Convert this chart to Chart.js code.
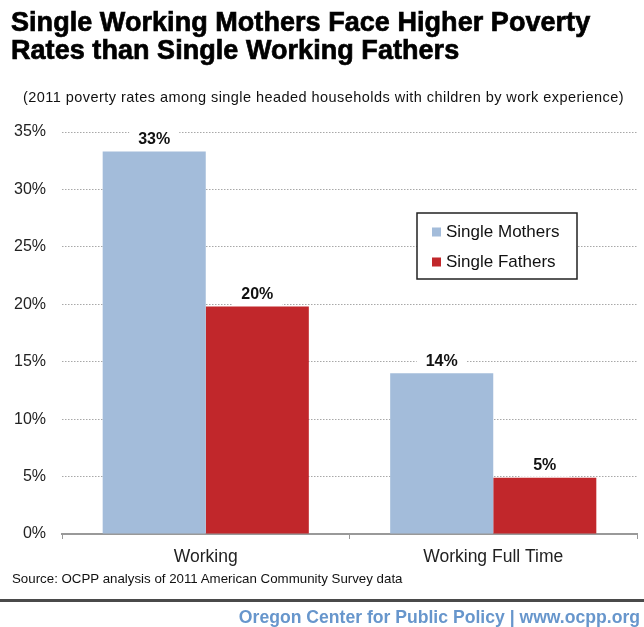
<!DOCTYPE html>
<html>
<head>
<meta charset="utf-8">
<script src="https://cdn.jsdelivr.net/npm/chart.js@4.4.0/dist/chart.umd.min.js"></script>
<style>
  html, body { margin: 0; padding: 0; background: #fff; }
  #wrap { position: relative; width: 644px; height: 627px; overflow: hidden; font-family: "Liberation Sans", Arial, sans-serif; }
  #c { position: absolute; left: 0; top: 0; }
  .t { position: absolute; white-space: nowrap; color: #000; }
  #title { left: 11px; top: 8px; font-size: 27px; font-weight: bold; line-height: 28px; letter-spacing: 0.05px; -webkit-text-stroke: 0.7px #000; }
  #subtitle { left: 23px; top: 89px; font-size: 14.5px; line-height: 16px; letter-spacing: 0.45px; color: #111; }
  #source { left: 12px; top: 571px; font-size: 13.3px; line-height: 16px; color: #111; }
  #rule { position: absolute; left: 0; top: 599px; width: 644px; height: 3px; background: #4a4a4a; }
  #footer { right: 4px; top: 606px; font-size: 17.6px; font-weight: bold; line-height: 22px; color: #6796cc; }
</style>
</head>
<body>
<div id="wrap">
  <canvas id="c" width="644" height="627"></canvas>
  <div class="t" id="title">Single Working Mothers Face Higher Poverty<br>Rates than Single Working Fathers</div>
  <div class="t" id="subtitle">(2011 poverty rates among single headed households with children by work experience)</div>
  <div class="t" id="source">Source: OCPP analysis of 2011 American Community Survey data</div>
  <div id="rule"></div>
  <div class="t" id="footer">Oregon Center for Public Policy | www.ocpp.org</div>
</div>
<script>
const categories = ["Working", "Working Full Time"];
const seriesNames = ["Single Mothers", "Single Fathers"];
const singleMothers = [33.3, 14.0];
const singleFathers = [19.8, 4.9];
const yTicks = [0, 5, 10, 15, 20, 25, 30, 35];
const colors = ["#a3bcda", "#c1272b"];

const dataLabels = {
  id: "dataLabels",
  afterDatasetsDraw(chart) {
    const ctx = chart.ctx;
    ctx.save();
    chart.data.datasets.forEach((ds, di) => {
      const meta = chart.getDatasetMeta(di);
      meta.data.forEach((bar, i) => {
        const v = ds.data[i];
        const txt = Math.round(v) + "%";
        const cy = bar.y - 12;
        ctx.fillStyle = "#fff";
        ctx.fillRect(bar.x - 25, cy - 10, 50, bar.y - (cy - 10) - 1);
        ctx.fillStyle = "#111";
        ctx.font = "bold 16px 'Liberation Sans', Arial, sans-serif";
        ctx.textAlign = "center";
        ctx.textBaseline = "middle";
        ctx.fillText(txt, bar.x, cy);
      });
    });
    ctx.restore();
  }
};

const boxLegend = {
  id: "boxLegend",
  afterDraw(chart) {
    const ctx = chart.ctx;
    ctx.save();
    const x0 = 417, y0 = 213, w = 160, h = 66;
    ctx.fillStyle = "#fff";
    ctx.fillRect(x0, y0, w, h);
    ctx.strokeStyle = "#222";
    ctx.lineWidth = 1.5;
    ctx.strokeRect(x0, y0, w, h);
    ctx.font = "17px 'Liberation Sans', Arial, sans-serif";
    ctx.textBaseline = "middle";
    ctx.textAlign = "left";
    chart.data.datasets.forEach((ds, i) => {
      const cy = 232 + i * 30;
      ctx.fillStyle = ds.backgroundColor;
      ctx.fillRect(432, cy - 4.5, 9, 9);
      ctx.fillStyle = "#111";
      ctx.fillText(ds.label, 446, cy);
    });
    ctx.restore();
  }
};

new Chart(document.getElementById("c"), {
  type: "bar",
  data: {
    labels: categories,
    datasets: [
      { label: seriesNames[0], data: singleMothers, backgroundColor: colors[0] },
      { label: seriesNames[1], data: singleFathers, backgroundColor: colors[1] }
    ]
  },
  options: {
    responsive: false,
    animation: false,
    devicePixelRatio: 1,
    layout: { padding: { top: 132, left: 0, right: 7, bottom: 51 } },
    plugins: { legend: { display: false }, tooltip: { enabled: false }, title: { display: false } },
    datasets: { bar: { categoryPercentage: 0.717, barPercentage: 1.0 } },
    scales: {
      y: {
        min: 0, max: 35,
        afterFit(scale) { scale.width = 62; },
        afterBuildTicks(scale) { scale.ticks = yTicks.map(v => ({ value: v })); },
        ticks: {
          callback: v => v + "%",
          font: { size: 16, family: "'Liberation Sans', Arial, sans-serif" },
          color: "#222",
          padding: 16
        },
        grid: { color: "#a8a8a8", drawTicks: false, lineWidth: 1 },
        border: { display: false, dash: [1.5, 1.5] }
      },
      x: {
        grid: { drawOnChartArea: false, drawTicks: true, tickLength: 5, color: "#999", offset: true },
        border: { display: true, color: "#999", width: 2 },
        ticks: {
          font: { size: 17.5, family: "'Liberation Sans', Arial, sans-serif" },
          color: "#222",
          padding: 8
        }
      }
    }
  },
  plugins: [dataLabels, boxLegend]
});
</script>
</body>
</html>
